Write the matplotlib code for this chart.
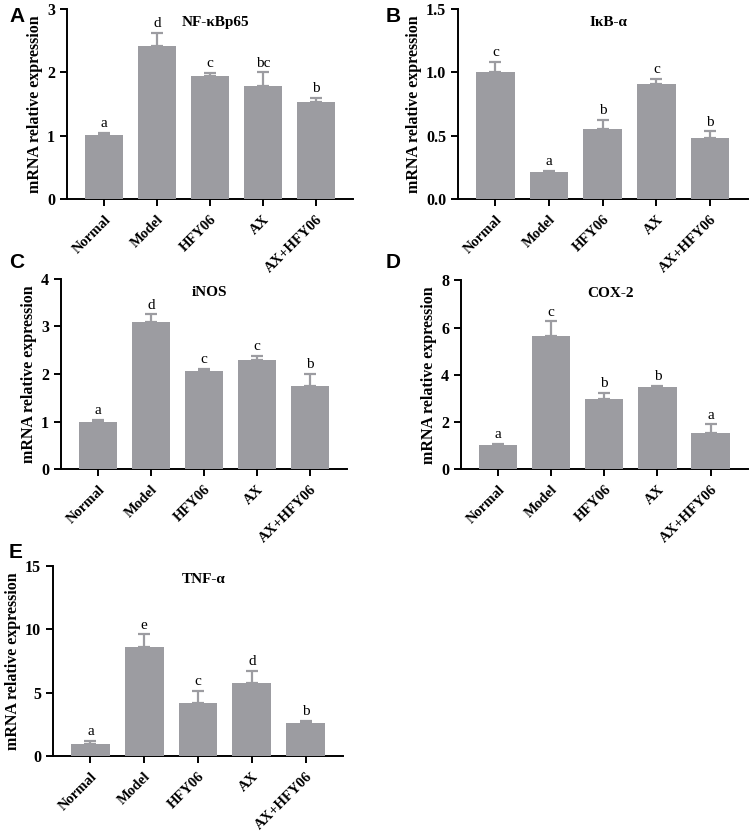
#!/usr/bin/env python3
"""Relative mRNA expression panels A-E."""
import matplotlib
matplotlib.use("Agg")
import matplotlib.pyplot as plt
import numpy as np

plt.rcParams.update({"font.family": ["Liberation Serif", "DejaVu Serif"],
                     "font.weight": "bold", "axes.linewidth": 1.4})

GROUPS = ["Normal", "Model", "HFY06", "AX", "AX+HFY06"]
BAR_COLOR = "#9c9ca1"

nfkb_mean = [1.01, 2.42, 1.94, 1.79, 1.53]
nfkb_err = [0.03, 0.21, 0.05, 0.21, 0.07]
nfkb_sig = ["a", "d", "c", "bc", "b"]

ikb_mean = [1.005, 0.212, 0.554, 0.906, 0.483]
ikb_err = [0.075, 0.006, 0.068, 0.042, 0.05]
ikb_sig = ["c", "a", "b", "c", "b"]

inos_mean = [1.0, 3.09, 2.06, 2.29, 1.75]
inos_err = [0.04, 0.16, 0.05, 0.09, 0.25]
inos_sig = ["a", "d", "c", "c", "b"]

cox_mean = [1.01, 5.63, 2.99, 3.49, 1.52]
cox_err = [0.08, 0.63, 0.26, 0.05, 0.38]
cox_sig = ["a", "c", "b", "b", "a"]

tnf_mean = [1.0, 8.62, 4.23, 5.78, 2.6]
tnf_err = [0.18, 0.97, 0.89, 0.94, 0.18]
tnf_sig = ["a", "e", "c", "d", "b"]

# letter, title, data, y max, y ticks, tick format, axes rect, letter position
panels = [
    ("A", "NF-κBp65", nfkb_mean, nfkb_err, nfkb_sig, 3, [0, 1, 2, 3], "{:.0f}",
     [0.089, 0.761, 0.380, 0.228], (0.012, 0.980)),
    ("B", "IκB-α", ikb_mean, ikb_err, ikb_sig, 1.5, [0, 0.5, 1.0, 1.5], "{:.1f}",
     [0.608, 0.761, 0.385, 0.228], (0.512, 0.980)),
    ("C", "iNOS", inos_mean, inos_err, inos_sig, 4, [0, 1, 2, 3, 4], "{:.0f}",
     [0.081, 0.436, 0.380, 0.229], (0.012, 0.684)),
    ("D", "COX-2", cox_mean, cox_err, cox_sig, 8, [0, 2, 4, 6, 8], "{:.0f}",
     [0.612, 0.436, 0.381, 0.227], (0.512, 0.684)),
    ("E", "TNF-α", tnf_mean, tnf_err, tnf_sig, 15, [0, 5, 10, 15], "{:.0f}",
     [0.070, 0.091, 0.386, 0.229], (0.012, 0.336)),
]

fig = plt.figure(figsize=(7.53, 8.32), dpi=100)
x = np.arange(len(GROUPS))
for letter, title, mean, err, sig, ymax, yticks, fmt, pos, lpos in panels:
    ax = fig.add_axes(pos)
    ax.errorbar(x, mean, yerr=[np.zeros(len(mean)), err], fmt="none",
                ecolor=BAR_COLOR, elinewidth=1.6, capsize=4, capthick=1.6, zorder=1)
    ax.bar(x, mean, 0.72, color=BAR_COLOR, edgecolor="none", zorder=3)
    for xi, m, e, s in zip(x, mean, err, sig):
        ax.text(xi, m + e + ymax * 0.015, s, ha="center", va="bottom",
                fontsize=11, fontweight="normal")
    ax.set_xlim(-0.7, 4.7)
    ax.set_ylim(0, ymax)
    ax.set_yticks(yticks)
    ax.set_yticklabels([fmt.format(t) for t in yticks], fontsize=11.5, fontweight="bold")
    ax.set_xticks(x)
    ax.set_xticklabels(GROUPS, rotation=45, ha="right", rotation_mode="anchor",
                       fontsize=10.5, fontweight="bold")
    ax.tick_params(direction="out", length=5, width=1.4)
    ax.tick_params(axis="x", pad=5)
    ax.spines["top"].set_visible(False)
    ax.spines["right"].set_visible(False)
    ax.set_ylabel("mRNA relative expression", fontsize=11.5, fontweight="bold",
                  labelpad=3)
    ax.text(0.52, 0.93, title, transform=ax.transAxes, ha="center", va="center",
            fontsize=11, fontweight="bold")
    fig.text(lpos[0], lpos[1], letter, family="Liberation Sans",
             fontsize=15, fontweight="bold", va="center")

fig.savefig("out.png", dpi=100)
